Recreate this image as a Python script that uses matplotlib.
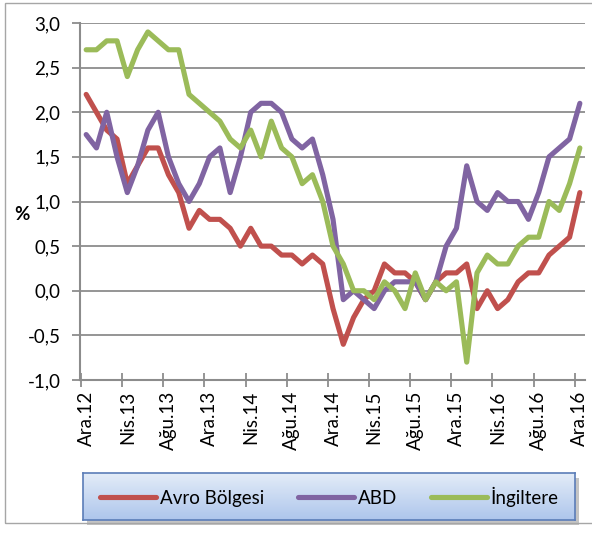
import numpy as np
import matplotlib.pyplot as plt
from matplotlib.colors import LinearSegmentedColormap
from matplotlib.patches import Rectangle

plt.rcParams['font.family'] = ['Lato', 'DejaVu Sans']

# monthly, Ara.12 .. Ara.16
tick_labels = ['Ara.12', 'Nis.13', 'Ağu.13', 'Ara.13', 'Nis.14', 'Ağu.14', 'Ara.14',
               'Nis.15', 'Ağu.15', 'Ara.15', 'Nis.16', 'Ağu.16', 'Ara.16']

avro = [2.2, 2.0, 1.8, 1.7, 1.2, 1.4, 1.6, 1.6, 1.3, 1.1,
        0.7, 0.9, 0.8, 0.8, 0.7, 0.5, 0.7, 0.5, 0.5, 0.4,
        0.4, 0.3, 0.4, 0.3, -0.2, -0.6, -0.3, -0.1, 0.0, 0.3,
        0.2, 0.2, 0.1, -0.1, 0.1, 0.2, 0.2, 0.3, -0.2, 0.0,
        -0.2, -0.1, 0.1, 0.2, 0.2, 0.4, 0.5, 0.6, 1.1]
abd = [1.75, 1.6, 2.0, 1.5, 1.1, 1.4, 1.8, 2.0, 1.5, 1.2,
       1.0, 1.2, 1.5, 1.6, 1.1, 1.5, 2.0, 2.1, 2.1, 2.0,
       1.7, 1.6, 1.7, 1.3, 0.8, -0.1, 0.0, -0.1, -0.2, 0.0,
       0.1, 0.1, 0.1, -0.1, 0.1, 0.5, 0.7, 1.4, 1.0, 0.9,
       1.1, 1.0, 1.0, 0.8, 1.1, 1.5, 1.6, 1.7, 2.1]
ingiltere = [2.7, 2.7, 2.8, 2.8, 2.4, 2.7, 2.9, 2.8, 2.7, 2.7,
             2.2, 2.1, 2.0, 1.9, 1.7, 1.6, 1.8, 1.5, 1.9, 1.6,
             1.5, 1.2, 1.3, 1.0, 0.5, 0.3, 0.0, 0.0, -0.1, 0.1,
             0.0, -0.2, 0.2, -0.1, 0.1, 0.0, 0.1, -0.8, 0.2, 0.4,
             0.3, 0.3, 0.5, 0.6, 0.6, 1.0, 0.9, 1.2, 1.6]

series = [('Avro Bölgesi', avro, '#C0504D'),
          ('ABD', abd, '#8064A2'),
          ('İngiltere', ingiltere, '#9BBB59')]

W, H = 592, 533
fs = 13.5
fig = plt.figure(figsize=(W / 100, H / 100), dpi=100)
fig.patches.append(Rectangle((5 / W, 1 - 523 / H), 600 / W, 520 / H, transform=fig.transFigure,
                             fill=False, ec='#a6a6a6', lw=1))

ax = fig.add_axes([80 / W, 1 - 380 / H, 505 / W, 357 / H])
x = np.arange(len(avro))
handles = []
for name, vals, col in series:
    h, = ax.plot(x, vals, color=col, lw=3.7, label=name,
                 solid_joinstyle='round', solid_capstyle='round')
    handles.append(h)

ax.set_xlim(-0.6, len(x) - 0.5)
ax.set_ylim(-1, 3)
yt = np.arange(-1, 3.01, 0.5)
ax.set_yticks(yt)
ax.set_yticklabels([f'{v:.1f}'.replace('.', ',') for v in yt], fontsize=fs)
ax.set_xticks(np.arange(0, len(x), 4) - 0.5)
ax.set_xticklabels([])
ax.set_xticks(np.arange(0, len(x), 4), tick_labels, minor=True, rotation=90, fontsize=fs)
ax.tick_params(axis='x', which='major', direction='inout', length=10, width=1.3, color='#8c8c8c')
ax.tick_params(axis='x', which='minor', length=0, pad=8)
ax.tick_params(axis='y', direction='out', length=6, width=1.3, color='#8c8c8c', pad=8)
ax.grid(axis='y', color='#8c8c8c', lw=1.3)
ax.set_axisbelow(True)
for s in ['top', 'right']:
    ax.spines[s].set_visible(False)
for s in ['left', 'bottom']:
    ax.spines[s].set_color('#8c8c8c')
    ax.spines[s].set_linewidth(1.5)
ax.set_ylabel('%', rotation=0, fontsize=fs, fontweight='bold')
ax.yaxis.set_label_coords(-0.115, 0.44)

# legend box with gradient and shadow
shadow = fig.add_axes([87 / W, 1 - 525 / H, 492 / W, 47 / H], zorder=1)
shadow.set_facecolor('#c4c4c4')
shadow.set_xticks([])
shadow.set_yticks([])
for s in shadow.spines.values():
    s.set_visible(False)

lax = fig.add_axes([83 / W, 1 - 520 / H, 492 / W, 47 / H], zorder=2)
cmap = LinearSegmentedColormap.from_list('g', ['#aec6ec', '#e3ecf8'])
lax.imshow(np.linspace(0, 1, 50).reshape(-1, 1), cmap=cmap, aspect='auto',
           extent=[0, 1, 0, 1], origin='lower')
lax.set_xticks([])
lax.set_yticks([])
for s in lax.spines.values():
    s.set_color('#5b7db8')
    s.set_linewidth(1.2)
leg = lax.legend(handles, [s[0] for s in series], loc='center', ncol=3, frameon=False,
                 fontsize=fs, handlelength=3.0, handletextpad=0.2, columnspacing=1.8)
for lh in leg.get_lines():
    lh.set_linewidth(3.7)

fig.savefig('out.png', dpi=100)
